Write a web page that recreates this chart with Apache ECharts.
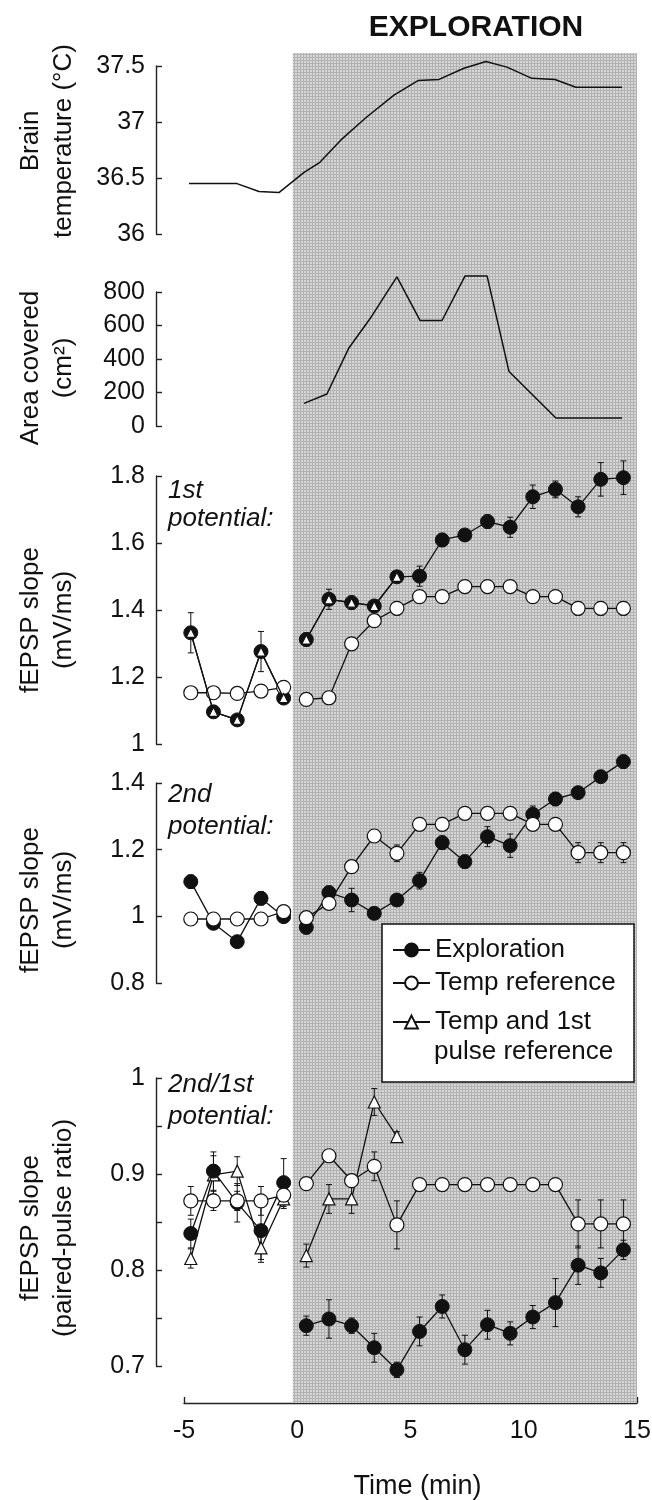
<!DOCTYPE html>
<html>
<head>
<meta charset="utf-8">
<title>Exploration</title>
<script src="https://cdn.jsdelivr.net/npm/echarts@6.0.0/dist/echarts.min.js"></script>
<style>
  html, body { margin: 0; padding: 0; background: #fff; }
  #main { width: 652px; height: 1500px; }
</style>
</head>
<body>
<div id="main"></div>
<script type="text/javascript">
// sample times (min): baseline and exploration
var baseT  = [-4.7, -3.7, -2.65, -1.6, -0.6];
var exploT = [0.4, 1.4, 2.4, 3.4, 4.4, 5.4, 6.4, 7.4, 8.4, 9.4, 10.4, 11.4, 12.4, 13.4, 14.4];
var shadeStart = -0.2;

// brain temperature (degC)
var tempT = [-4.78, -2.66, -1.69, -0.81, 0.3, 1.0, 1.93, 3.04, 4.27, 5.33, 6.26, 7.36, 8.33, 9.26, 10.36, 11.38, 12.3, 14.34];
var tempC = [36.45, 36.45, 36.38, 36.37, 36.55, 36.64, 36.84, 37.04, 37.24, 37.37, 37.38, 37.48, 37.54, 37.49, 37.39, 37.38, 37.31, 37.31];

// area covered (cm2)
var areaT   = [0.3, 1.31, 2.28, 3.21, 4.4, 5.42, 6.39, 7.41, 8.38, 9.35, 11.42, 14.34];
var areaCm2 = [135, 191, 466, 640, 890, 630, 630, 896, 896, 325, 48, 48];

// 1st potential, fEPSP slope (mV/ms)
var p1ExplBase = [1.332, 1.096, 1.072, 1.276, 1.137];
var p1Expl     = [1.312, 1.432, 1.422, 1.412, 1.499, 1.501, 1.609, 1.624, 1.664, 1.647, 1.738, 1.760, 1.708, 1.790, 1.795];
var p1ExplErrB = [0.06, 0.015, 0.015, 0.06, 0.015];
var p1ExplErr  = [0.02, 0.03, 0.02, 0.015, 0.015, 0.03, 0.02, 0.012, 0.02, 0.03, 0.035, 0.025, 0.03, 0.05, 0.05];
var p1TempBase = [1.153, 1.153, 1.151, 1.158, 1.169];
var p1Temp     = [1.133, 1.138, 1.299, 1.368, 1.405, 1.44, 1.44, 1.47, 1.47, 1.47, 1.44, 1.44, 1.405, 1.405, 1.405];
var p1TempErrB = [0, 0, 0, 0, 0];
var p1TempErr  = [0, 0, 0, 0, 0.02, 0, 0, 0, 0, 0, 0, 0, 0.02, 0.02, 0.02];
var p1TriBase  = [1.332, 1.096, 1.072, 1.276, 1.137];
var p1Tri      = [1.312, 1.432, 1.422, 1.412, 1.499];

// 2nd potential, fEPSP slope (mV/ms)
var p2ExplBase = [1.104, 0.979, 0.924, 1.054, 0.999];
var p2Expl     = [0.967, 1.071, 1.049, 1.009, 1.049, 1.107, 1.221, 1.164, 1.239, 1.212, 1.306, 1.352, 1.371, 1.419, 1.464];
var p2ExplErrB = [0.02, 0.01, 0.01, 0.02, 0.01];
var p2ExplErr  = [0.02, 0.02, 0.035, 0.01, 0.015, 0.025, 0.02, 0.02, 0.03, 0.035, 0.025, 0.02, 0.01, 0.015, 0.02];
var p2TempBase = [0.992, 0.992, 0.992, 0.992, 1.014];
var p2Temp     = [0.996, 1.039, 1.149, 1.241, 1.189, 1.276, 1.276, 1.309, 1.309, 1.309, 1.276, 1.276, 1.191, 1.191, 1.191];
var p2TempErrB = [0, 0, 0, 0, 0];
var p2TempErr  = [0, 0, 0, 0, 0.025, 0, 0, 0, 0, 0, 0, 0, 0.03, 0.03, 0.03];

// 2nd/1st paired-pulse ratio
var ppExplBase = [0.838, 0.903, 0.870, 0.841, 0.891];
var ppExpl     = [0.742, 0.749, 0.742, 0.719, 0.696, 0.736, 0.762, 0.717, 0.743, 0.734, 0.751, 0.766, 0.805, 0.797, 0.821];
var ppExplErrB = [0.015, 0.02, 0.02, 0.03, 0.025];
var ppExplErr  = [0.01, 0.02, 0.008, 0.015, 0.008, 0.015, 0.012, 0.015, 0.015, 0.012, 0.012, 0.025, 0.02, 0.015, 0.01];
var ppTempBase = [0.872, 0.872, 0.872, 0.872, 0.878];
var ppTemp     = [0.890, 0.919, 0.893, 0.908, 0.847, 0.889, 0.889, 0.889, 0.889, 0.889, 0.889, 0.889, 0.848, 0.848, 0.848];
var ppTempErrB = [0.015, 0.01, 0.01, 0.015, 0.01];
var ppTempErr  = [0, 0, 0, 0.015, 0.025, 0, 0, 0, 0, 0, 0, 0, 0.025, 0.025, 0.025];
var ppTriBase  = [0.812, 0.899, 0.903, 0.823, 0.874];
var ppTri      = [0.815, 0.874, 0.874, 0.975, 0.939];
var ppTriErrB  = [0.01, 0.02, 0.015, 0.015, 0.01];
var ppTriErr   = [0.012, 0.015, 0.015, 0.014, 0.005];

var xTicks = [-5, 0, 5, 10, 15];

var FONT = 'Liberation Sans, Arial, Helvetica, sans-serif';
var INK = '#111';

// dotted halftone fill for the exploration period
var tile = document.createElement('canvas');
tile.width = 3; tile.height = 3;
var g = tile.getContext('2d');
g.fillStyle = '#d6d6d6'; g.fillRect(0, 0, 3, 3);
g.fillStyle = '#b2b2b2'; g.fillRect(0, 0, 3, 1); g.fillRect(0, 0, 1, 3);

function pairs(ts, vs) {
    return ts.slice(0, vs.length).map(function (t, i) { return [t, vs[i]]; });
}
// baseline + gap + exploration
function joined(b, d) {
    return pairs(baseT, b).concat([[-0.1, '-']], pairs(exploT, d));
}
function errData(b, eb, d, ed) {
    var out = [];
    pairs(baseT, b).forEach(function (p, i) { if (eb[i] > 0) out.push([p[0], p[1] - eb[i], p[1] + eb[i]]); });
    pairs(exploT, d).forEach(function (p, i) { if (ed[i] > 0) out.push([p[0], p[1] - ed[i], p[1] + ed[i]]); });
    return out;
}

function drawErr(params, api) {
    var top = api.coord([api.value(0), api.value(2)]);
    var bot = api.coord([api.value(0), api.value(1)]);
    var w = 3;
    var st = { stroke: INK, lineWidth: 1 };
    return {
        type: 'group',
        children: [
            { type: 'line', shape: { x1: top[0], y1: top[1], x2: bot[0], y2: bot[1] }, style: st },
            { type: 'line', shape: { x1: top[0] - w, y1: top[1], x2: top[0] + w, y2: top[1] }, style: st },
            { type: 'line', shape: { x1: bot[0] - w, y1: bot[1], x2: bot[0] + w, y2: bot[1] }, style: st }
        ]
    };
}

function errSeries(gi, data, z) {
    return {
        type: 'custom', xAxisIndex: gi, yAxisIndex: gi, z: z, silent: true, clip: false,
        data: data, encode: { x: 0, y: [1, 2] }, renderItem: drawErr
    };
}

var styles = {
    fill: { symbol: 'circle', symbolSize: 14, itemStyle: { color: INK, borderColor: INK, borderWidth: 1 } },
    open: { symbol: 'circle', symbolSize: 14, itemStyle: { color: '#fff', borderColor: INK, borderWidth: 1.2 } },
    tri:  { symbol: 'triangle', symbolSize: 11, itemStyle: { color: '#fff', borderColor: INK, borderWidth: 1.2 } }
};

function lineSeries(gi, name, kind, data, z, size) {
    var s = styles[kind];
    return {
        type: 'line', name: name, xAxisIndex: gi, yAxisIndex: gi, z: z, clip: false,
        data: data, symbol: s.symbol, symbolSize: size || s.symbolSize,
        showAllSymbol: true, itemStyle: s.itemStyle,
        lineStyle: { color: INK, width: 1.3 }
    };
}

function yAx(idx, min, max, step, name, pad, fmt) {
    return {
        type: 'value', gridIndex: idx, min: min, max: max, interval: step, offset: 28,
        axisLine: { show: true, onZero: false, lineStyle: { color: '#222', width: 1.4 } },
        axisTick: { show: true, inside: true, length: 6, lineStyle: { color: '#222', width: 1.4 } },
        splitLine: { show: false },
        axisLabel: { color: INK, fontSize: 25, fontFamily: FONT, margin: 11, formatter: fmt },
        name: name, nameLocation: 'middle', nameRotate: 90, nameGap: 76,
        nameTextStyle: { color: INK, fontSize: 26, fontFamily: FONT, lineHeight: 33, padding: pad }
    };
}

function xAx(idx) {
    return { type: 'value', gridIndex: idx, min: -5, max: 15, show: false };
}

function gridAt(top, height) {
    return { left: 184, right: 15, top: top, height: height, outerBoundsMode: 'none' };
}

var EXP = 'Exploration', TEMP = 'Temp reference', TRI = 'Temp and 1st pulse reference';

var myChart = echarts.init(document.getElementById('main'), null, { renderer: 'canvas' });

option = {
    animation: false,
    backgroundColor: '#fff',
    textStyle: { fontFamily: FONT, color: INK },
    title: {
        text: 'EXPLORATION', left: 471, top: 8, textAlign: 'center',
        textStyle: { fontSize: 30, fontWeight: 'bold', color: INK, fontFamily: FONT }
    },
    grid: [
        gridAt(66, 168),
        gridAt(292, 134),
        gridAt(476, 268),
        gridAt(783, 200),
        gridAt(1078, 288),
        gridAt(53, 1350)   // background: shading + time axis
    ],
    xAxis: [
        xAx(0), xAx(1), xAx(2), xAx(3), xAx(4),
        {
            type: 'value', gridIndex: 5, min: -5, max: 15, interval: 5,
            axisLine: { show: true, onZero: false, lineStyle: { color: '#222', width: 1.4 } },
            axisTick: { show: true, inside: true, length: 6, lineStyle: { color: '#222', width: 1.4 } },
            splitLine: { show: false },
            axisLabel: {
                color: INK, fontSize: 25, fontFamily: FONT, margin: 16,
                formatter: function (v) { return xTicks.indexOf(v) >= 0 ? String(v) : ''; }
            },
            name: 'Time (min)', nameLocation: 'middle', nameGap: 70,
            nameTextStyle: { color: INK, fontSize: 27, fontFamily: FONT, padding: [0, 0, 0, 14] }
        }
    ],
    yAxis: [
        yAx(0, 36, 37.5, 0.5, 'Brain\ntemperature (°C)', [0, 0, 0, 18]),
        yAx(1, 0, 800, 200, 'Area covered\n(cm²)', [0, 18, 0, 0]),
        yAx(2, 1, 1.8, 0.2, 'fEPSP slope\n(mV/ms)', [0, 20, 0, 0]),
        yAx(3, 0.8, 1.4, 0.2, 'fEPSP slope\n(mV/ms)', [0, 34, 0, 0]),
        yAx(4, 0.7, 1, 0.05, 'fEPSP slope\n(paired-pulse ratio)', [0, 12, 0, 0], function (v) {
            var k = Math.round(v * 100);
            if (k % 10 !== 0) return '';
            return k === 100 ? '1' : (k / 100).toFixed(1);
        }),
        { type: 'value', gridIndex: 5, min: 0, max: 1, show: false }
    ],
    legend: [
        { data: [EXP], left: 392, top: 935 },
        { data: [TEMP], left: 392, top: 968 },
        { data: [TRI], left: 392, top: 1007, formatter: function () { return 'Temp and 1st'; } }
    ].map(function (l) {
        l.orient = 'vertical'; l.padding = 0; l.itemWidth = 37; l.itemHeight = 16; l.z = 60;
        l.selectedMode = false;
        l.textStyle = { fontSize: 26, lineHeight: 30, color: INK, fontFamily: FONT };
        return l;
    }),
    graphic: [
        { type: 'rect', z: 50, shape: { x: 382, y: 924, width: 252, height: 158 },
          style: { fill: '#fff', stroke: INK, lineWidth: 1.5 } },
        { type: 'text', z: 60, style: { text: 'pulse reference', x: 434, y: 1052, verticalAlign: 'middle',
          fontSize: 26, fontFamily: FONT, fill: INK } },
        { type: 'text', z: 60, style: { text: '1st', x: 168, y: 491, verticalAlign: 'middle',
          fontSize: 26, fontStyle: 'italic', fontFamily: FONT, fill: INK } },
        { type: 'text', z: 60, style: { text: 'potential:', x: 168, y: 519, verticalAlign: 'middle',
          fontSize: 26, fontStyle: 'italic', fontFamily: FONT, fill: INK } },
        { type: 'text', z: 60, style: { text: '2nd', x: 168, y: 795, verticalAlign: 'middle',
          fontSize: 26, fontStyle: 'italic', fontFamily: FONT, fill: INK } },
        { type: 'text', z: 60, style: { text: 'potential:', x: 168, y: 827, verticalAlign: 'middle',
          fontSize: 26, fontStyle: 'italic', fontFamily: FONT, fill: INK } },
        { type: 'text', z: 60, style: { text: '2nd/1st', x: 168, y: 1085, verticalAlign: 'middle',
          fontSize: 26, fontStyle: 'italic', fontFamily: FONT, fill: INK } },
        { type: 'text', z: 60, style: { text: 'potential:', x: 168, y: 1117, verticalAlign: 'middle',
          fontSize: 26, fontStyle: 'italic', fontFamily: FONT, fill: INK } }
    ],
    series: [
        {
            type: 'line', xAxisIndex: 5, yAxisIndex: 5, z: 0, silent: true, symbol: 'none',
            data: [], markArea: {
                silent: true, itemStyle: { color: { image: tile, repeat: 'repeat' } },
                data: [[{ xAxis: shadeStart }, { xAxis: 15 }]]
            }
        },
        {
            type: 'line', xAxisIndex: 0, yAxisIndex: 0, symbol: 'none', clip: false,
            data: pairs(tempT, tempC), lineStyle: { color: INK, width: 1.5 }
        },
        {
            type: 'line', xAxisIndex: 1, yAxisIndex: 1, symbol: 'none', clip: false,
            data: pairs(areaT, areaCm2), lineStyle: { color: INK, width: 1.5 }
        },

        // 1st potential
        errSeries(2, errData(p1ExplBase, p1ExplErrB, p1Expl, p1ExplErr), 2),
        errSeries(2, errData(p1TempBase, p1TempErrB, p1Temp, p1TempErr), 2),
        lineSeries(2, EXP, 'fill', joined(p1ExplBase, p1Expl), 3),
        lineSeries(2, TEMP, 'open', joined(p1TempBase, p1Temp), 3),
        lineSeries(2, TRI, 'tri', joined(p1TriBase, p1Tri), 4, 9),

        // 2nd potential
        errSeries(3, errData(p2ExplBase, p2ExplErrB, p2Expl, p2ExplErr), 2),
        errSeries(3, errData(p2TempBase, p2TempErrB, p2Temp, p2TempErr), 2),
        lineSeries(3, EXP, 'fill', joined(p2ExplBase, p2Expl), 3),
        lineSeries(3, TEMP, 'open', joined(p2TempBase, p2Temp), 4),

        // paired-pulse ratio
        errSeries(4, errData(ppExplBase, ppExplErrB, ppExpl, ppExplErr), 2),
        errSeries(4, errData(ppTempBase, ppTempErrB, ppTemp, ppTempErr), 2),
        errSeries(4, errData(ppTriBase, ppTriErrB, ppTri, ppTriErr), 2),
        lineSeries(4, TRI, 'tri', joined(ppTriBase, ppTri), 3, 12),
        lineSeries(4, EXP, 'fill', joined(ppExplBase, ppExpl), 4),
        lineSeries(4, TEMP, 'open', joined(ppTempBase, ppTemp), 5)
    ]
};
myChart.setOption(option);
</script>
</body>
</html>
